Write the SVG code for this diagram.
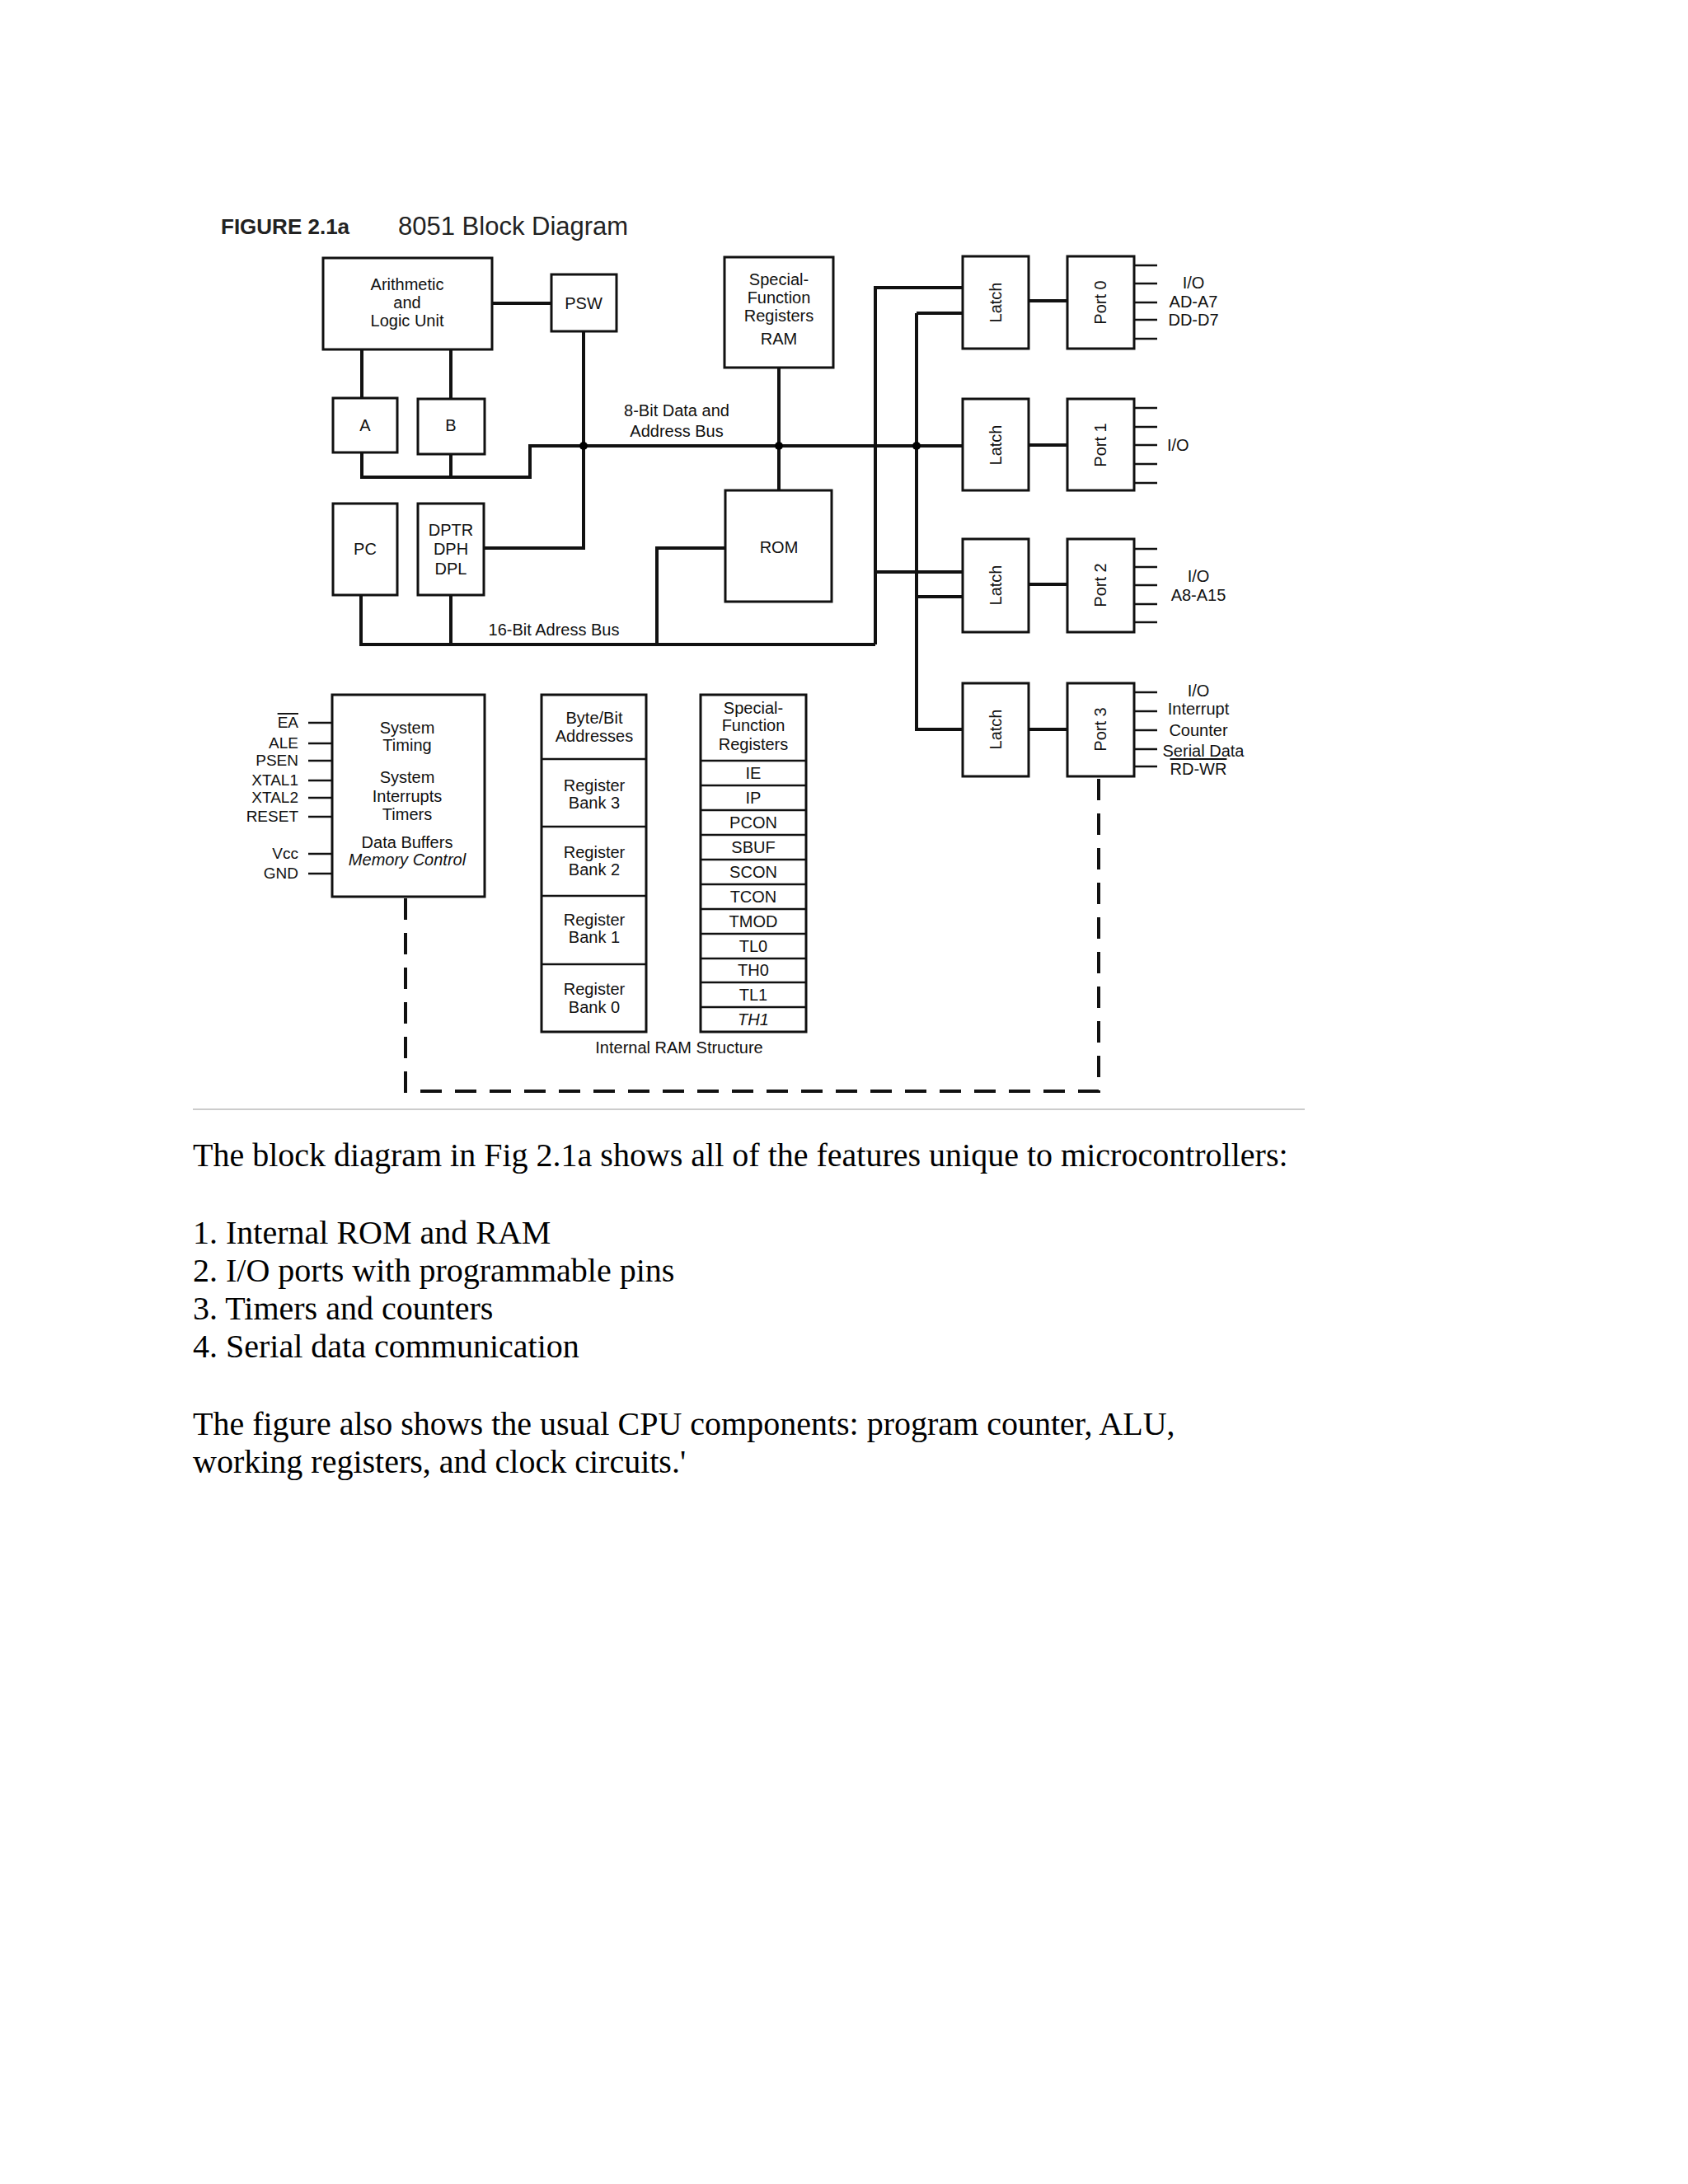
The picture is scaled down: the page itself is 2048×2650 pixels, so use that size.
<svg xmlns="http://www.w3.org/2000/svg" width="2048" height="2650" viewBox="0 0 2048 2650">
<style>
.b{fill:#fff;stroke:#111;stroke-width:3}
.t{font-family:"Liberation Sans",Arial,sans-serif;font-size:20px;fill:#111;text-anchor:middle}
.l{font-family:"Liberation Sans",Arial,sans-serif;font-size:20px;fill:#111}
.w{stroke:#111;stroke-width:4;fill:none}
.p{stroke:#111;stroke-width:2.5;fill:none}
.d{stroke:#111;stroke-width:4;fill:none;stroke-dasharray:26 16}
.body{font-family:"Liberation Serif","Times New Roman",serif;font-size:40px;fill:#000}
</style>
<rect width="2048" height="2650" fill="#fff"/>
<text x="268" y="284" font-family="Liberation Sans,Arial,sans-serif" font-weight="bold" font-size="26" fill="#222">FIGURE 2.1a</text>
<text x="483" y="285" font-family="Liberation Sans,Arial,sans-serif" font-size="31" fill="#222">8051 Block Diagram</text>

<g id="connectors">
<path class="w" d="M439 424V483M547 424V484M439 549V579H643V541H1168M547 551V579"/>
<path class="w" d="M597 368H669M708 402V665H587M945 446V595"/>
<path class="w" d="M438 722V782H1062M547 722V782M880 665H797V782"/>
<path class="w" d="M1062 782V349H1168M1062 694H1168M1112 380H1168M1112 380V885H1168M1112 724H1168"/>
<path class="w" d="M1248 365H1295" stroke-width="6"/>
<path class="w" d="M1248 540H1295M1248 709H1295M1248 885H1295"/>
<circle cx="708" cy="541" r="5"/><circle cx="945" cy="541" r="5"/><circle cx="1112" cy="541" r="5"/>
<path class="p" d="M1376 322H1404M1376 344H1404M1376 367H1404M1376 388H1404M1376 411H1404"/>
<path class="p" d="M1376 495H1404M1376 518H1404M1376 540H1404M1376 563H1404M1376 586H1404"/>
<path class="p" d="M1376 666H1404M1376 688H1404M1376 710H1404M1376 733H1404M1376 755H1404"/>
<path class="p" d="M1376 840H1404M1376 863H1404M1376 886H1404M1376 909H1404M1376 930H1404"/>
<path class="p" d="M374 877H403M374 902H403M374 923H403M374 947H403M374 968H403M374 991H403M374 1036H403M374 1060H403"/>
<path class="d" d="M492 1090V1324H1333V944"/>
</g>

<g id="alu"><rect class="b" x="392" y="313" width="205" height="111"/><text class="t" x="494" y="352">Arithmetic</text><text class="t" x="494" y="374">and</text><text class="t" x="494" y="396">Logic Unit</text></g>
<g id="psw"><rect class="b" x="669" y="333" width="79" height="69"/><text class="t" x="708" y="375">PSW</text></g>
<g id="sfrram"><rect class="b" x="879" y="312" width="132" height="134"/><text class="t" x="945" y="346">Special-</text><text class="t" x="945" y="368">Function</text><text class="t" x="945" y="390">Registers</text><text class="t" x="945" y="418">RAM</text></g>
<g id="a"><rect class="b" x="404" y="483" width="78" height="66"/><text class="t" x="443" y="523">A</text></g>
<g id="bb"><rect class="b" x="507" y="484" width="81" height="67"/><text class="t" x="547" y="523">B</text></g>
<text class="t" x="821" y="505">8-Bit Data and</text><text class="t" x="821" y="530">Address Bus</text>
<g id="pc"><rect class="b" x="404" y="611" width="78" height="111"/><text class="t" x="443" y="673">PC</text></g>
<g id="dptr"><rect class="b" x="507" y="611" width="80" height="111"/><text class="t" x="547" y="650">DPTR</text><text class="t" x="547" y="673">DPH</text><text class="t" x="547" y="697">DPL</text></g>
<g id="rom"><rect class="b" x="880" y="595" width="129" height="135"/><text class="t" x="945" y="671">ROM</text></g>
<text class="t" x="672" y="771">16-Bit Adress Bus</text>

<g id="latch0"><rect class="b" x="1168" y="311" width="80" height="112"/><text class="t" transform="translate(1215 367) rotate(-90)">Latch</text></g>
<g id="port0"><rect class="b" x="1295" y="311" width="81" height="112"/><text class="t" transform="translate(1342 367) rotate(-90)">Port 0</text></g>
<g id="latch1"><rect class="b" x="1168" y="484" width="80" height="111"/><text class="t" transform="translate(1215 540) rotate(-90)">Latch</text></g>
<g id="port1"><rect class="b" x="1295" y="484" width="81" height="111"/><text class="t" transform="translate(1342 540) rotate(-90)">Port 1</text></g>
<g id="latch2"><rect class="b" x="1168" y="654" width="80" height="113"/><text class="t" transform="translate(1215 710) rotate(-90)">Latch</text></g>
<g id="port2"><rect class="b" x="1295" y="654" width="81" height="113"/><text class="t" transform="translate(1342 710) rotate(-90)">Port 2</text></g>
<g id="latch3"><rect class="b" x="1168" y="829" width="80" height="113"/><text class="t" transform="translate(1215 885) rotate(-90)">Latch</text></g>
<g id="port3"><rect class="b" x="1295" y="829" width="81" height="113"/><text class="t" transform="translate(1342 885) rotate(-90)">Port 3</text></g>

<text class="t" x="1448" y="350">I/O</text><text class="t" x="1448" y="373">AD-A7</text><text class="t" x="1448" y="395">DD-D7</text>
<text class="l" x="1416" y="547">I/O</text>
<text class="t" x="1454" y="706">I/O</text><text class="t" x="1454" y="729">A8-A15</text>
<text class="t" x="1454" y="845">I/O</text><text class="t" x="1454" y="867">Interrupt</text><text class="t" x="1454" y="893">Counter</text><text class="t" x="1460" y="918">Serial Data</text><text class="t" x="1454" y="940" text-decoration="overline">RD-WR</text>

<g id="timing"><rect class="b" x="403" y="843" width="185" height="245"/>
<text class="t" x="494" y="890">System</text><text class="t" x="494" y="911">Timing</text><text class="t" x="494" y="950">System</text><text class="t" x="494" y="973">Interrupts</text><text class="t" x="494" y="995">Timers</text><text class="t" x="494" y="1029">Data Buffers</text><text class="t" x="494" y="1050" font-style="italic">Memory Control</text></g>
<g id="pins" font-family="Liberation Sans,Arial,sans-serif" font-size="19" text-anchor="end" fill="#111">
<text x="362" y="883" text-decoration="overline">EA</text><text x="362" y="908">ALE</text><text x="362" y="929">PSEN</text><text x="362" y="953">XTAL1</text><text x="362" y="974">XTAL2</text><text x="362" y="997">RESET</text><text x="362" y="1042">Vcc</text><text x="362" y="1066">GND</text></g>

<g id="ramcol"><rect class="b" x="657" y="843" width="127" height="409"/>
<path class="p" d="M657 921H784M657 1003H784M657 1087H784M657 1170H784"/>
<text class="t" x="721" y="878">Byte/Bit</text><text class="t" x="721" y="900">Addresses</text>
<text class="t" x="721" y="960">Register</text><text class="t" x="721" y="981">Bank 3</text>
<text class="t" x="721" y="1041">Register</text><text class="t" x="721" y="1062">Bank 2</text>
<text class="t" x="721" y="1123">Register</text><text class="t" x="721" y="1144">Bank 1</text>
<text class="t" x="721" y="1207">Register</text><text class="t" x="721" y="1229">Bank 0</text></g>
<g id="sfrcol"><rect class="b" x="850" y="843" width="128" height="409"/>
<path class="p" d="M850 923H978M850 953H978M850 983H978M850 1013H978M850 1043H978M850 1073H978M850 1103H978M850 1133H978M850 1163H978M850 1192H978M850 1222H978"/>
<text class="t" x="914" y="866">Special-</text><text class="t" x="914" y="887">Function</text><text class="t" x="914" y="910">Registers</text>
<text class="t" x="914" y="945">IE</text><text class="t" x="914" y="975">IP</text><text class="t" x="914" y="1005">PCON</text><text class="t" x="914" y="1035">SBUF</text><text class="t" x="914" y="1065">SCON</text><text class="t" x="914" y="1095">TCON</text><text class="t" x="914" y="1125">TMOD</text><text class="t" x="914" y="1155">TL0</text><text class="t" x="914" y="1184">TH0</text><text class="t" x="914" y="1214">TL1</text><text class="t" x="914" y="1244" font-style="italic">TH1</text></g>
<text class="t" x="824" y="1278">Internal RAM Structure</text>

<line x1="234" y1="1346" x2="1583" y2="1346" stroke="#ccc" stroke-width="2"/>
<text class="body" x="234" y="1415">The block diagram in Fig 2.1a shows all of the features unique to microcontrollers:</text>
<text class="body" x="234" y="1509">1. Internal ROM and RAM</text>
<text class="body" x="234" y="1555">2. I/O ports with programmable pins</text>
<text class="body" x="234" y="1601">3. Timers and counters</text>
<text class="body" x="234" y="1647">4. Serial data communication</text>
<text class="body" x="234" y="1741">The figure also shows the usual CPU components: program counter, ALU,</text>
<text class="body" x="234" y="1787">working registers, and clock circuits.'</text>
</svg>
